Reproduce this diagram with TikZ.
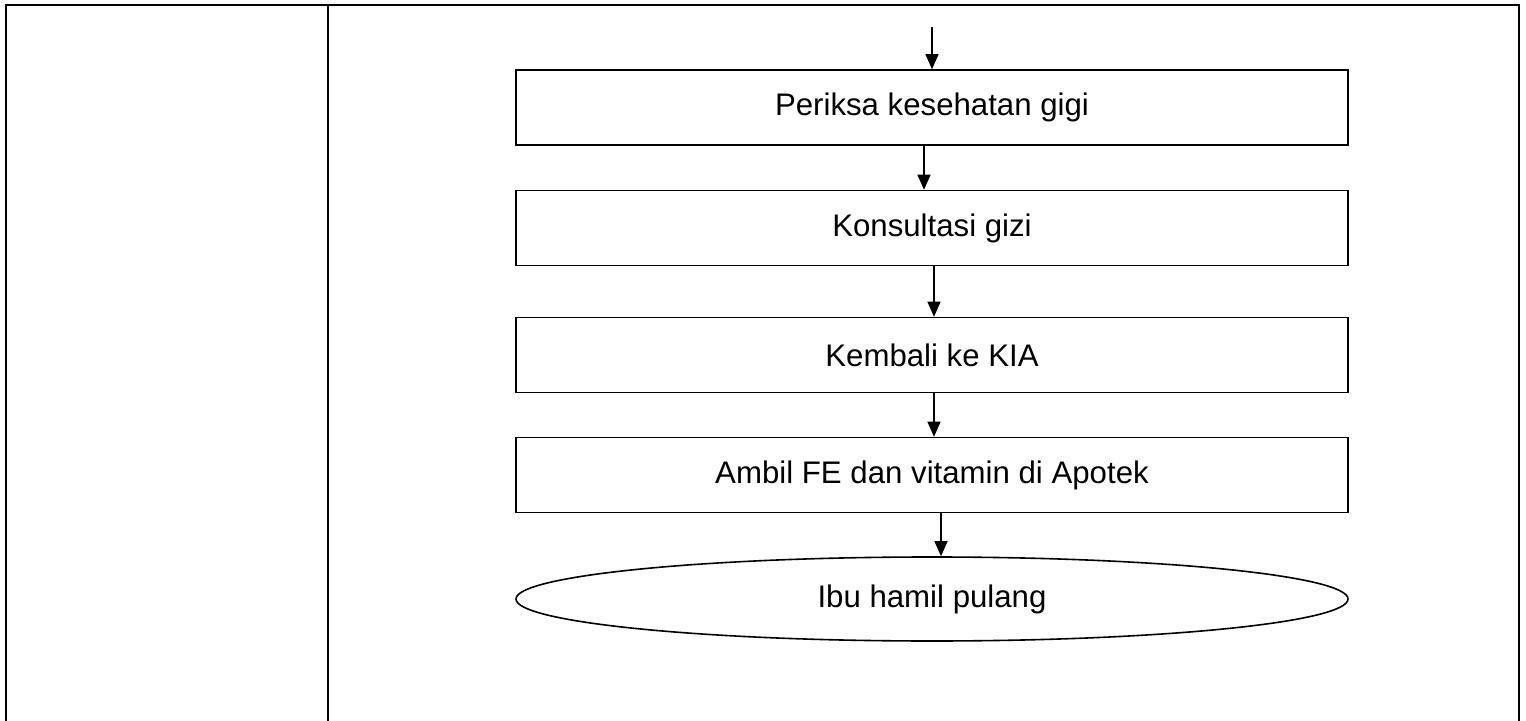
\documentclass[tikz,border=0pt]{standalone}
\usepackage{fontspec}
\setmainfont{Liberation Sans}
\usetikzlibrary{shapes.geometric,arrows.meta}
\tikzset{
langkah/.style={draw,line width=0.8pt,minimum width=416pt,minimum height=37.5pt,inner sep=0pt,font=\fontsize{15.6}{18}\selectfont},
akhir/.style={langkah,ellipse,minimum height=42pt},
panah/.style={line width=0.6pt,-{Triangle[length=7.5pt,width=6.5pt]}}
}
\begin{document}
\begin{tikzpicture}[x=0.5pt,y=-0.5pt]
\useasboundingbox (0,0) rectangle (1526,721);
\draw[line width=1pt]
(6,721) -- (6,5) -- (1519,5) -- (1519,721)
(328,5) -- (328,721);
\node[langkah] (periksa) at (932,107.5) {Periksa kesehatan gigi};
\node[langkah] (gizi) at (932,228) {Konsultasi gizi};
\node[langkah] (kia) at (932,355) {Kembali ke KIA};
\node[langkah] (apotek) at (932,475) {Ambil FE dan vitamin di Apotek};
\node[akhir] (pulang) at (932,599) {Ibu hamil pulang};
\coordinate (masuk) at (932,27);
\draw[panah] (masuk) -- (periksa.north);
\draw[panah] ([xshift=-4pt]periksa.south) -- ([xshift=-4pt]gizi.north);
\draw[panah] ([xshift=1pt]gizi.south) -- ([xshift=1pt]kia.north);
\draw[panah] ([xshift=1pt]kia.south) -- ([xshift=1pt]apotek.north);
\draw[panah] ([xshift=4.5pt]apotek.south) -- ([xshift=4.5pt]pulang.north);
\end{tikzpicture}
\end{document}
